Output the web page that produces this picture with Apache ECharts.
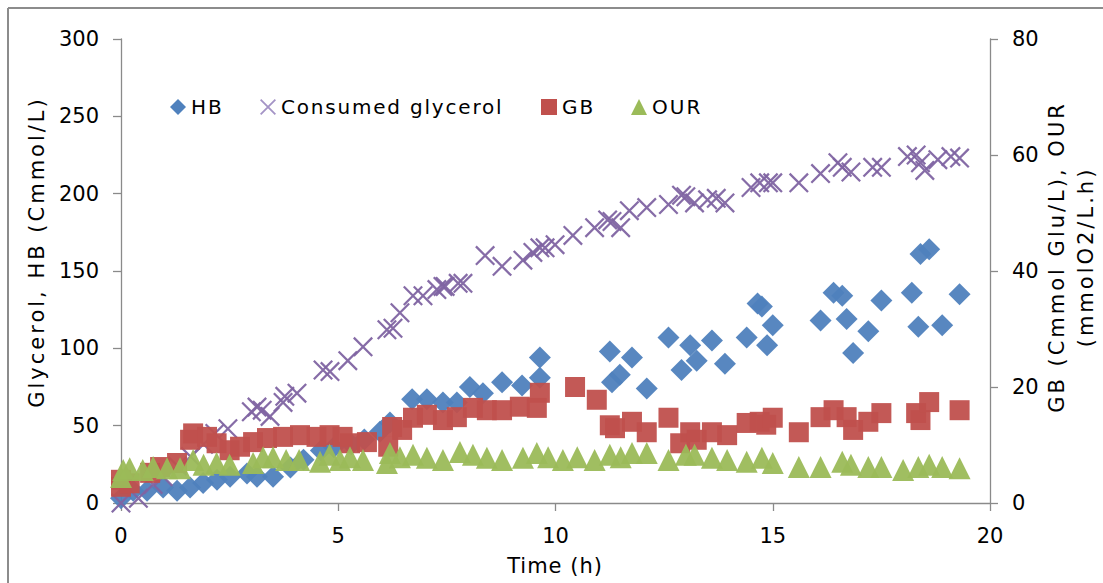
<!DOCTYPE html>
<html>
<head>
<meta charset="utf-8">
<script src="https://cdn.jsdelivr.net/npm/echarts@6/dist/echarts.min.js"></script>
<style>
html,body{margin:0;padding:0;background:#fff;}
#chart{width:1103px;height:583px;}
</style>
</head>
<body>
<div id="chart"></div>
<script>
// ---- data: [time (h), value] ----
const hbData = [[0,3],[0.28,8],[0.6,8],[0.97,10],[1.29,8],[1.59,10],[1.89,13],[2.21,15],[2.51,17],[2.9,19],[3.13,17],[3.5,17],[3.9,23],[4.2,28],[4.6,34],[4.9,36],[5.3,38],[5.6,41],[5.96,46],[6.19,52],[6.7,67],[7.04,67],[7.41,65],[7.73,65],[8.03,75],[8.33,71],[8.77,78],[9.23,76],[9.64,94],[9.64,81],[11.25,98],[11.3,78],[11.48,83],[11.76,94],[12.1,74],[12.6,107],[12.9,86],[13.1,102],[13.25,92],[13.6,105],[13.9,90],[14.4,107],[14.65,129],[14.75,127],[14.87,102],[15.0,115],[16.1,118],[16.4,136],[16.6,134],[16.7,119],[16.85,97],[17.2,111],[17.5,131],[18.2,136],[18.35,114],[18.4,161],[18.6,164],[18.9,115],[19.3,135]];
const glycerolData = [[0,0],[0.4,3],[0.74,12],[0.97,17],[1.3,24],[1.6,30],[1.9,38],[2.16,45],[2.46,48],[3.0,59],[3.13,62],[3.25,60],[3.43,56],[3.73,65],[3.77,69],[4.05,71],[4.65,86],[4.81,85],[5.22,92],[5.57,101],[6.12,112],[6.26,113],[6.42,123],[6.72,134],[6.95,134],[7.27,138],[7.41,140],[7.46,140],[7.76,142],[7.87,142],[8.38,160],[8.77,153],[9.25,157],[9.48,162],[9.64,165],[9.76,165],[9.99,167],[10.4,173],[10.9,178],[11.2,183],[11.3,182],[11.5,178],[11.7,189],[12.1,191],[12.6,193],[12.9,199],[13.0,198],[13.2,194],[13.5,196],[13.7,197],[13.9,194],[14.5,204],[14.7,207],[14.9,207],[15.0,207],[15.6,207],[16.1,213],[16.5,220],[16.6,217],[16.8,214],[17.3,217],[17.5,217],[18.1,224],[18.3,225],[18.4,220],[18.5,215],[18.8,222],[19.1,224],[19.3,223]];
const gbData = [[0,2.8],[0,4],[0.2,3.4],[0.67,5.2],[0.9,6.2],[1.29,6.9],[1.59,10.9],[1.66,12],[1.98,11.4],[2.2,10.3],[2.5,9.1],[2.74,9.7],[3.04,10.5],[3.36,11.2],[3.73,11.4],[4.12,11.7],[4.5,11.4],[4.8,11.7],[5.1,11.4],[5.27,10.3],[5.66,10.5],[6.15,9.7],[6.24,13.1],[6.47,12.6],[6.72,14.7],[7.04,15.2],[7.41,14.3],[7.73,14.8],[8.1,16.4],[8.42,16],[8.77,16],[9.18,16.6],[9.57,16.4],[9.64,19],[10.45,20],[10.95,17.8],[11.25,13.4],[11.37,12.9],[11.76,14],[12.1,12.2],[12.6,14.7],[12.87,10.3],[13.1,12.2],[13.25,10.9],[13.6,12.2],[13.95,11.7],[14.4,13.8],[14.7,14],[14.85,13.5],[15.0,14.7],[15.6,12.2],[16.1,14.8],[16.4,16],[16.7,14.8],[16.85,12.6],[17.2,14],[17.5,15.5],[18.3,15.5],[18.4,14.3],[18.6,17.4],[19.3,16]];
const ourData = [[0,4.5],[0.05,5.7],[0.2,6],[0.5,5.7],[0.74,6.2],[1.06,6],[1.36,6],[1.66,7.4],[1.9,6.6],[2.2,6.9],[2.5,6.6],[3.04,6.9],[3.27,7.9],[3.5,7.9],[3.8,7.4],[4.1,7.4],[4.58,7.1],[4.8,8.3],[5.04,7.4],[5.27,7.9],[5.57,7.4],[6.12,6.9],[6.19,8.6],[6.42,7.9],[6.72,8.3],[7.04,7.8],[7.41,7.4],[7.8,8.8],[8.1,8.3],[8.42,7.8],[8.77,7.4],[9.25,7.8],[9.57,8.6],[9.83,7.9],[10.17,7.4],[10.5,7.9],[10.9,7.4],[11.25,8.3],[11.5,7.9],[11.76,8.6],[12.1,8.6],[12.6,7.4],[13.0,8.3],[13.2,8.3],[13.6,7.8],[13.95,7.4],[14.4,7.1],[14.75,7.8],[15.0,6.9],[15.6,6.2],[16.1,6.2],[16.6,7.1],[16.8,6.6],[17.2,6.2],[17.5,6.2],[18.0,5.7],[18.35,6.2],[18.6,6.6],[18.9,6.2],[19.3,6]];

const seriesNames = ['HB', 'Consumed glycerol', 'GB', 'OUR'];
const xAxisTitle = 'Time (h)';
const leftAxisTitle = 'Glycerol, HB (Cmmol/L)';
const rightAxisTitle1 = 'GB (Cmmol Glu/L), OUR';
const rightAxisTitle2 = '(mmolO2/L.h)';

const FONT = 'DejaVu Sans';
const xPath = 'path://M0,1.6L1.6,0L20,18.4L18.4,20Z M18.4,0L20,1.6L1.6,20L0,18.4Z';
const axisGray = '#8a8a8a';

const chart = echarts.init(document.getElementById('chart'), null, {renderer: 'svg'});

function legendAt(left, name, icon, color) {
  return {
    left: left, top: 92, itemWidth: 16, itemHeight: 16, itemGap: 0,
    selectedMode: false,
    textStyle: {fontFamily: FONT, fontSize: 20, color: '#000'},
    data: [{name: name, icon: icon, itemStyle: {color: color, opacity: 1}}]
  };
}

const axisCommon = {
  axisLine: {show: true, lineStyle: {color: axisGray, width: 1.3}},
  axisTick: {show: true, length: 8, lineStyle: {color: axisGray, width: 1.3}},
  splitLine: {show: false},
  axisLabel: {fontFamily: FONT, fontSize: 21, color: '#000', margin: 22}
};

chart.setOption({
  animation: false,
  backgroundColor: '#fff',
  grid: {left: 121, right: 113, top: 39, bottom: 80, containLabel: false},
  legend: [
    legendAt(165, seriesNames[0], 'diamond', '#4F81BD'),
    legendAt(255, seriesNames[1], xPath, '#a493c6'),
    legendAt(536, seriesNames[2], 'rect', '#C0504D'),
    legendAt(626, seriesNames[3], 'triangle', '#9BBB59')
  ],
  xAxis: Object.assign({}, axisCommon, {
    type: 'value', min: 0, max: 20, interval: 5,
    axisLabel: {fontFamily: FONT, fontSize: 21, color: '#000', margin: 22}
  }),
  yAxis: [
    Object.assign({}, axisCommon, {type: 'value', min: 0, max: 300, interval: 50, position: 'left'}),
    Object.assign({}, axisCommon, {type: 'value', min: 0, max: 80, interval: 20, position: 'right'})
  ],
  graphic: [
    {type: 'line', shape: {x1: 8, y1: 8, x2: 1110, y2: 8}, style: {stroke: '#8c8c8c', lineWidth: 2}, silent: true},
    {type: 'line', shape: {x1: 8, y1: 8, x2: 8, y2: 590}, style: {stroke: '#8c8c8c', lineWidth: 2}, silent: true},
    {type: 'text', x: 555, y: 566, silent: true,
      style: {text: xAxisTitle, fontFamily: FONT, fontSize: 21, fill: '#000', textAlign: 'center', textVerticalAlign: 'middle'}},
    {type: 'text', x: 37, y: 252, rotation: Math.PI / 2, silent: true,
      style: {text: leftAxisTitle, fontFamily: FONT, fontSize: 21, fill: '#000', textAlign: 'center', textVerticalAlign: 'middle'}},
    {type: 'text', x: 1057, y: 257, rotation: Math.PI / 2, silent: true,
      style: {text: rightAxisTitle1, fontFamily: FONT, fontSize: 21, fill: '#000', textAlign: 'center', textVerticalAlign: 'middle'}},
    {type: 'text', x: 1086, y: 257, rotation: Math.PI / 2, silent: true,
      style: {text: rightAxisTitle2, fontFamily: FONT, fontSize: 21, fill: '#000', textAlign: 'center', textVerticalAlign: 'middle'}}
  ],
  series: [
    {name: seriesNames[0], type: 'scatter', yAxisIndex: 0, data: hbData, clip: false,
      symbol: 'diamond', symbolSize: 22, itemStyle: {color: '#4F81BD', opacity: 0.95}},
    {name: seriesNames[1], type: 'scatter', yAxisIndex: 0, data: glycerolData, clip: false,
      symbol: xPath, symbolSize: 20, itemStyle: {color: '#8064A2', opacity: 0.95}},
    {name: seriesNames[2], type: 'scatter', yAxisIndex: 1, data: gbData, clip: false,
      symbol: 'rect', symbolSize: 20, itemStyle: {color: '#C0504D', opacity: 0.95}},
    {name: seriesNames[3], type: 'scatter', yAxisIndex: 1, data: ourData, clip: false,
      symbol: 'triangle', symbolSize: 22, itemStyle: {color: '#9BBB59', opacity: 0.95}}
  ]
});

function applySpacing() {
  document.querySelectorAll('#chart text').forEach(function (t) {
    const s = t.textContent;
    let ls = 0;
    if (s === 'HB' || s === 'GB' || s === 'OUR') ls = 2;
    else if (s === 'Consumed glycerol') ls = 1.8;
    else if (s === xAxisTitle) ls = 1;
    else if (s === leftAxisTitle || s === rightAxisTitle1 || s === rightAxisTitle2) ls = 3;
    if (ls) t.setAttribute('letter-spacing', ls);
  });
}
applySpacing();
chart.on('finished', applySpacing);
</script>
</body>
</html>
